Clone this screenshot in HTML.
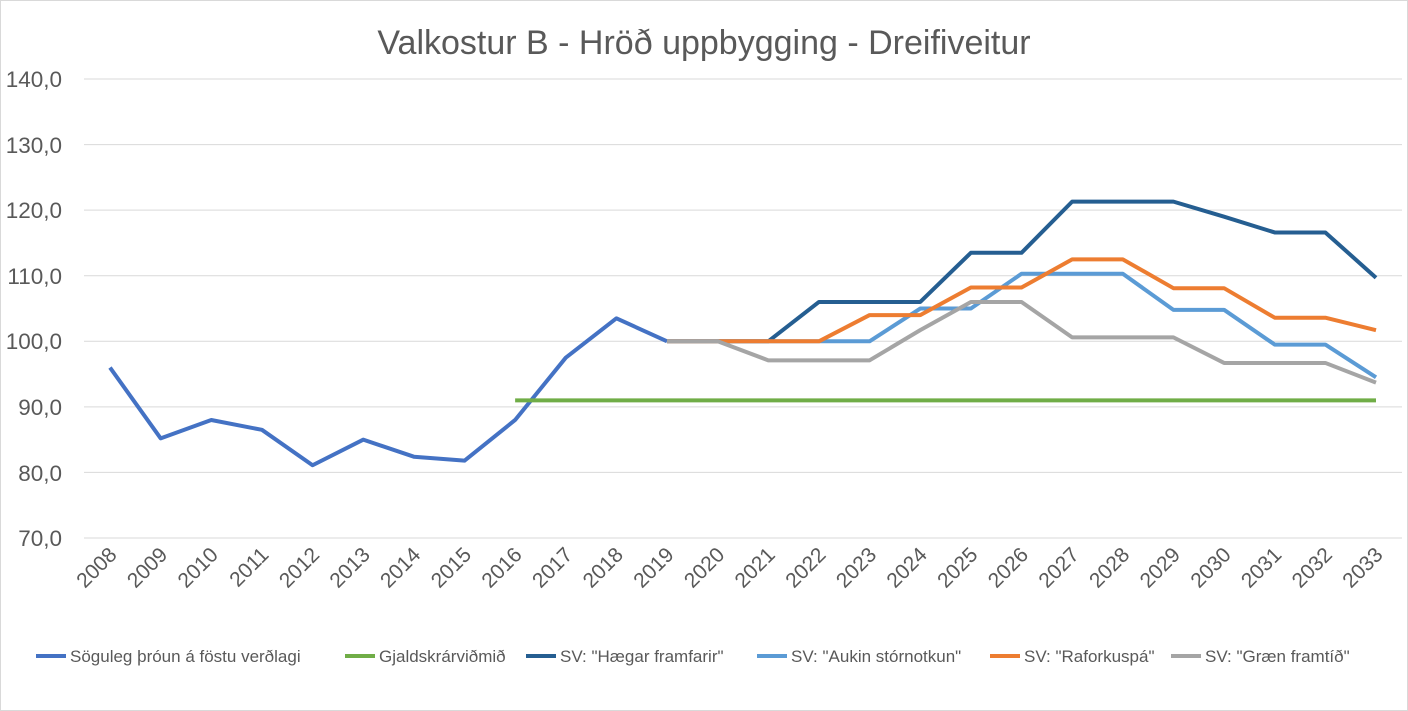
<!DOCTYPE html>
<html><head><meta charset="utf-8"><style>
html,body{margin:0;padding:0;background:#fff;}
svg{display:block;font-family:"Liberation Sans",sans-serif;}
</style></head><body>
<svg width="1408" height="711" viewBox="0 0 1408 711">
<rect x="0.5" y="0.5" width="1407" height="710" fill="#fff" stroke="#d9d9d9"/>
<text x="704" y="54" text-anchor="middle" font-size="34" fill="#595959">Valkostur B - Hröð uppbygging - Dreifiveitur</text>
<g stroke="#d9d9d9" stroke-width="1">
<line x1="84" x2="1402" y1="79" y2="79"/>
<line x1="84" x2="1402" y1="144.6" y2="144.6"/>
<line x1="84" x2="1402" y1="210.1" y2="210.1"/>
<line x1="84" x2="1402" y1="275.7" y2="275.7"/>
<line x1="84" x2="1402" y1="341.3" y2="341.3"/>
<line x1="84" x2="1402" y1="406.9" y2="406.9"/>
<line x1="84" x2="1402" y1="472.4" y2="472.4"/>
<line x1="84" x2="1402" y1="538" y2="538"/>
</g>
<g font-size="22.5" fill="#595959" text-anchor="end">
<text x="62" y="87">140,0</text>
<text x="62" y="153">130,0</text>
<text x="62" y="218">120,0</text>
<text x="62" y="284">110,0</text>
<text x="62" y="349">100,0</text>
<text x="62" y="415">90,0</text>
<text x="62" y="481">80,0</text>
<text x="62" y="546">70,0</text>
</g>
<g font-size="21" fill="#595959" text-anchor="end">
<text transform="translate(118,556) rotate(-45)">2008</text>
<text transform="translate(168.6,556) rotate(-45)">2009</text>
<text transform="translate(219.3,556) rotate(-45)">2010</text>
<text transform="translate(269.9,556) rotate(-45)">2011</text>
<text transform="translate(320.6,556) rotate(-45)">2012</text>
<text transform="translate(371.2,556) rotate(-45)">2013</text>
<text transform="translate(421.8,556) rotate(-45)">2014</text>
<text transform="translate(472.5,556) rotate(-45)">2015</text>
<text transform="translate(523.1,556) rotate(-45)">2016</text>
<text transform="translate(573.8,556) rotate(-45)">2017</text>
<text transform="translate(624.4,556) rotate(-45)">2018</text>
<text transform="translate(675,556) rotate(-45)">2019</text>
<text transform="translate(725.7,556) rotate(-45)">2020</text>
<text transform="translate(776.3,556) rotate(-45)">2021</text>
<text transform="translate(827,556) rotate(-45)">2022</text>
<text transform="translate(877.6,556) rotate(-45)">2023</text>
<text transform="translate(928.2,556) rotate(-45)">2024</text>
<text transform="translate(978.9,556) rotate(-45)">2025</text>
<text transform="translate(1029.5,556) rotate(-45)">2026</text>
<text transform="translate(1080.2,556) rotate(-45)">2027</text>
<text transform="translate(1130.8,556) rotate(-45)">2028</text>
<text transform="translate(1181.4,556) rotate(-45)">2029</text>
<text transform="translate(1232.1,556) rotate(-45)">2030</text>
<text transform="translate(1282.7,556) rotate(-45)">2031</text>
<text transform="translate(1333.4,556) rotate(-45)">2032</text>
<text transform="translate(1384,556) rotate(-45)">2033</text>
</g>
<g transform="matrix(50.64,0,0,-6.557,110,997)" fill="none" stroke-width="4" stroke-linejoin="round">
<polyline vector-effect="non-scaling-stroke" stroke="#4472c4" points="0,96 1,85.2 2,88 3,86.5 4,81.1 5,85 6,82.4 7,81.8 8,88 9,97.5 10,103.5 11,100"/>
<polyline vector-effect="non-scaling-stroke" stroke="#70ad47" points="8,91 25,91"/>
<polyline vector-effect="non-scaling-stroke" stroke="#255e91" points="11,100 12,100 13,100 14,106 15,106 16,106 17,113.5 18,113.5 19,121.3 20,121.3 21,121.3 22,119 23,116.6 24,116.6 25,109.7"/>
<polyline vector-effect="non-scaling-stroke" stroke="#5b9bd5" points="11,100 12,100 13,100 14,100 15,100 16,105 17,105 18,110.3 19,110.3 20,110.3 21,104.8 22,104.8 23,99.5 24,99.5 25,94.5"/>
<polyline vector-effect="non-scaling-stroke" stroke="#ed7d31" points="11,100 12,100 13,100 14,100 15,104 16,104 17,108.2 18,108.2 19,112.5 20,112.5 21,108.1 22,108.1 23,103.6 24,103.6 25,101.7"/>
<polyline vector-effect="non-scaling-stroke" stroke="#a5a5a5" points="11,100 12,100 13,97.1 14,97.1 15,97.1 16,101.7 17,106 18,106 19,100.6 20,100.6 21,100.6 22,96.7 23,96.7 24,96.7 25,93.7"/>
</g>
<g font-size="17" fill="#595959">
<line x1="36" x2="66" y1="656" y2="656" stroke="#4472c4" stroke-width="4"/>
<text x="70" y="662">Söguleg þróun á föstu verðlagi</text>
<line x1="345" x2="375" y1="656" y2="656" stroke="#70ad47" stroke-width="4"/>
<text x="379" y="662">Gjaldskrárviðmið</text>
<line x1="526" x2="556" y1="656" y2="656" stroke="#255e91" stroke-width="4"/>
<text x="560" y="662">SV: "Hægar framfarir"</text>
<line x1="757" x2="787" y1="656" y2="656" stroke="#5b9bd5" stroke-width="4"/>
<text x="791" y="662">SV: "Aukin stórnotkun"</text>
<line x1="990" x2="1020" y1="656" y2="656" stroke="#ed7d31" stroke-width="4"/>
<text x="1024" y="662">SV: "Raforkuspá"</text>
<line x1="1171" x2="1201" y1="656" y2="656" stroke="#a5a5a5" stroke-width="4"/>
<text x="1205" y="662">SV: "Græn framtíð"</text>
</g>
</svg>
</body></html>
